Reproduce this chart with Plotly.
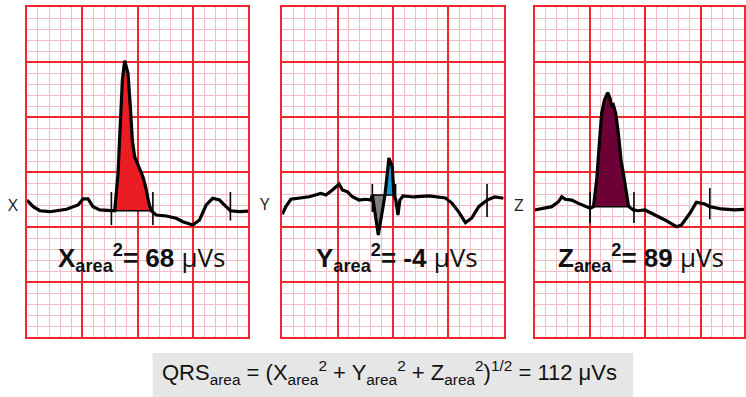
import plotly.graph_objects as go

W, H = 746, 397

# ---- data (units = small grid squares) ----
x_t = [0, 0.57, 1.17, 2.07, 3.58, 4.62, 5.07, 5.52, 5.97, 6.58, 7.63, 7.93, 8.23, 8.44, 8.62, 8.83,
       9.13, 9.34, 9.52, 9.73, 10.18, 10.48, 10.72, 11.02, 11.23, 11.68, 12.59, 13.49, 14.08, 14.98,
       15.59, 16.19, 16.78, 17.39, 17.99, 18.38, 19.19, 20.0]
x_v = [12.45, 11.85, 11.48, 11.39, 11.61, 12.0, 12.55, 12.55, 11.85, 11.55, 11.48, 11.48, 14.88, 19.42,
       23.36, 25.12, 23.97, 20.94, 17.91, 16.39, 15.34, 14.57, 13.66, 12.15, 11.48, 11.09, 11.0, 10.79,
       10.48, 10.18, 10.64, 12.0, 12.61, 12.45, 11.85, 11.48, 11.39, 11.45]
x_qrs = (7.93, 11.23)
x_base = 11.48
x_marks = [7.63, 11.38, 18.38]
x_mark_lo = [10.18, 10.18, 10.6]
x_mark_hi = [13.18, 13.18, 13.18]

y_t = [0, 0.33, 0.78, 1.53, 2.43, 3.49, 3.94, 4.53, 5.14, 5.43, 5.88, 6.33, 6.94, 7.54, 7.99, 8.14,
       8.68, 9.28, 9.64, 9.94, 10.09, 10.27, 10.45, 10.63, 10.90, 11.89, 13.24, 14.74, 15.32, 15.95,
       16.55, 17.12, 17.75, 18.5, 19.19, 20.0]
y_v = [11.15, 11.85, 12.52, 12.61, 12.75, 13.06, 12.91, 13.36, 13.91, 13.36, 13.21, 12.75, 12.45, 12.52,
       12.45, 12.91, 9.27, 12.91, 16.27, 15.48, 12.91, 12.45, 11.09, 12.45, 12.82, 12.73, 12.82, 12.64,
       12.18, 11.36, 10.39, 10.82, 11.85, 12.45, 12.73, 12.61]
y_neg = (8.14, 9.28)
y_pos = (9.28, 10.09)
y_base = 12.91
y_marks = [8.14, 10.24, 18.5]
y_mark_lo = [11.36, 11.82, 10.91]
y_mark_hi = [13.91, 13.91, 13.91]

z_t = [0, 0.66, 1.56, 2.16, 2.46, 2.77, 3.36, 3.96, 4.57, 5.02, 5.32, 5.61, 5.83, 6.06, 6.31, 6.61,
       6.82, 6.97, 7.12, 7.33, 7.57, 7.81, 8.02, 8.23, 8.47, 8.56, 8.92, 9.37, 9.97, 10.88, 11.78,
       12.82, 13.27, 14.03, 14.62, 15.38, 15.83, 16.87, 18.08, 18.92]
z_v = [11.55, 11.7, 11.85, 12.3, 12.75, 12.52, 12.45, 12.15, 11.85, 11.7, 11.85, 14.27, 17.3, 20.34,
       21.55, 22.21, 21.7, 20.94, 21.09, 20.34, 18.52, 16.09, 14.88, 13.36, 12.0, 11.82, 11.55, 11.48,
       11.55, 11.09, 10.64, 10.03, 10.18, 11.25, 12.25, 12.09, 11.85, 11.64, 11.55, 11.61]
z_qrs = (5.32, 8.56)
z_base = 11.85
z_marks = [5.02, 8.98, 15.83]
z_mark_lo = [10.36, 10.36, 10.7]
z_mark_hi = [13.18, 13.18, 13.55]

leads = ["X", "Y", "Z"]
area_values = [68, -4, 89]
qrs_total = 112

# ---- layout geometry (pixels) ----
panels_px = [(27, 249), (283, 505), (536, 746)]
top_px, bot_px = 7, 337
unit_px = 11.1


def px(x):
    return x / W


def py(y):
    return 1 - y / H


fig = go.Figure()


def segment(t, v, a, b, base):
    xs = [a] + [ti for ti in t if a < ti < b] + [b]
    vs = [base] + [vi for ti, vi in zip(t, v) if a < ti < b] + [base]
    return xs + [a], vs + [base]


def clip_side(t, v, a, b, base, positive):
    xs, vs = segment(t, v, a, b, base)
    if positive:
        vs = [max(val, base) for val in vs]
    else:
        vs = [min(val, base) for val in vs]
    return xs, vs


data = [
    (x_t, x_v, x_marks, x_mark_lo, x_mark_hi),
    (y_t, y_v, y_marks, y_mark_lo, y_mark_hi),
    (z_t, z_v, z_marks, z_mark_lo, z_mark_hi),
]

for i, (t, v, marks, lo, hi) in enumerate(data):
    xa = "x" if i == 0 else f"x{i+1}"
    ya = "y" if i == 0 else f"y{i+1}"
    if i == 0:
        fx, fy = segment(t, v, x_qrs[0], x_qrs[1], x_base)
        fig.add_trace(go.Scatter(x=fx, y=fy, fill="toself", fillcolor="#ec1c24", mode="none",
                                 xaxis=xa, yaxis=ya, showlegend=False))
        fig.add_trace(go.Scatter(x=list(x_qrs), y=[x_base, x_base], mode="lines",
                                 line=dict(color="black", width=1.5), xaxis=xa, yaxis=ya, showlegend=False))
    elif i == 1:
        fx, fy = clip_side(t, v, y_neg[0], y_neg[1], y_base, False)
        fig.add_trace(go.Scatter(x=fx, y=fy, fill="toself", fillcolor="#7f7f7f", mode="none",
                                 xaxis=xa, yaxis=ya, showlegend=False))
        fx, fy = clip_side(t, v, y_pos[0], y_pos[1], y_base, True)
        fig.add_trace(go.Scatter(x=fx, y=fy, fill="toself", fillcolor="#1b9ad6", mode="none",
                                 xaxis=xa, yaxis=ya, showlegend=False))
        fig.add_trace(go.Scatter(x=[y_neg[0], y_pos[1]], y=[y_base, y_base], mode="lines",
                                 line=dict(color="black", width=1.5), xaxis=xa, yaxis=ya, showlegend=False))
    else:
        fx, fy = segment(t, v, z_qrs[0], z_qrs[1], z_base)
        fig.add_trace(go.Scatter(x=fx, y=fy, fill="toself", fillcolor="#6d0036", mode="none",
                                 xaxis=xa, yaxis=ya, showlegend=False))
        fig.add_trace(go.Scatter(x=list(z_qrs), y=[z_base, z_base], mode="lines",
                                 line=dict(color="black", width=1.5), xaxis=xa, yaxis=ya, showlegend=False))
    mx, my = [], []
    for m, l, h in zip(marks, lo, hi):
        mx += [m, m, None]
        my += [l, h, None]
    fig.add_trace(go.Scatter(x=mx, y=my, mode="lines", line=dict(color="black", width=1.6),
                             xaxis=xa, yaxis=ya, showlegend=False))
    fig.add_trace(go.Scatter(x=t, y=v, mode="lines", line=dict(color="black", width=3.2),
                             xaxis=xa, yaxis=ya, showlegend=False))

    x0, x1 = panels_px[i]
    xr = (x1 - x0) / unit_px
    axis_common = dict(showticklabels=False, ticks="", zeroline=False, showgrid=True,
                       gridcolor="#f2262c", gridwidth=2, dtick=5, tick0=0,
                       showline=True, linecolor="#f2262c", linewidth=2, mirror=True,
                       minor=dict(dtick=1, tick0=0, showgrid=True, gridcolor="#f5bcc6", gridwidth=1),
                       fixedrange=True)
    key = "" if i == 0 else str(i + 1)
    fig.layout["xaxis" + key] = dict(domain=[px(x0), px(x1)], range=[0, xr], anchor=ya, **axis_common)
    fig.layout["yaxis" + key] = dict(domain=[py(bot_px), py(top_px)], range=[0, 30], anchor=xa, **axis_common)

lead_pos = [(13, 204), (266, 203), (520, 205)]
for name, (lx, ly) in zip(leads, lead_pos):
    fig.add_annotation(x=px(lx), y=py(ly), xref="paper", yref="paper", text=name, showarrow=False,
                       font=dict(family="Open Sans, Liberation Sans, sans-serif", size=17, color="#222"),
                       xanchor="center", yanchor="middle")

label_pos = [142, 398, 643]
for name, val, cx in zip(leads, area_values, label_pos):
    fig.add_annotation(x=px(cx), y=py(257), xref="paper", yref="paper",
                       text=f"<b>{name}<sub>area</sub><sup>2</sup>= {val}</b> <span style='font-family:Open Sans'>μVs</span>",
                       showarrow=False,
                       font=dict(family="Liberation Sans, Arial, sans-serif", size=26, color="#111"),
                       xanchor="center", yanchor="middle")

fig.add_shape(type="rect", xref="paper", yref="paper", x0=px(153), x1=px(635), y0=0, y1=py(353),
              fillcolor="#e6e6e6", line=dict(width=0), layer="below")
fig.add_annotation(x=px(391), y=py(372), xref="paper", yref="paper",
                   text=(f"QRS<sub>area</sub> = (X<sub>area</sub><sup>2</sup> + Y<sub>area</sub><sup>2</sup>"
                         f" + Z<sub>area</sub><sup>2</sup>)<sup>1/2</sup> = {qrs_total} μVs"),
                   showarrow=False,
                   font=dict(family="Liberation Sans, Arial, sans-serif", size=22, color="#111"),
                   xanchor="center", yanchor="middle")

fig.update_layout(width=W, height=H, margin=dict(l=0, r=0, t=0, b=0),
                  paper_bgcolor="white", plot_bgcolor="white", showlegend=False)

fig.write_html("out.html", config={"displayModeBar": False},
               post_script="document.body.style.margin='0';document.body.style.overflow='hidden';")
